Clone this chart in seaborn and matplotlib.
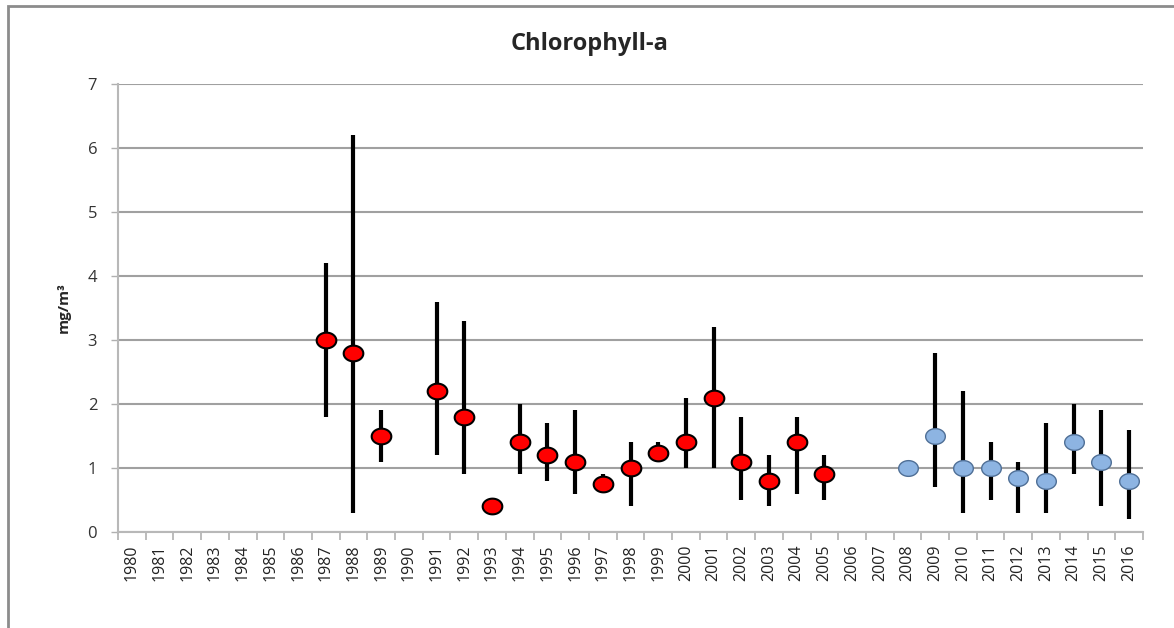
import numpy as np
import pandas as pd
import matplotlib
matplotlib.use("Agg")
import matplotlib.pyplot as plt
import seaborn as sns
from matplotlib.path import Path
from matplotlib.patches import Rectangle

# Chlorophyll-a annual values (mg/m3), NaN = no data
years = [str(y) for y in range(1980, 2017)]
mean_vals = [np.nan] * 7 + [3.0, 2.8, 1.5, np.nan, 2.2, 1.8, 0.4, 1.4, 1.2, 1.1, 0.75,
                            1.0, 1.23, 1.4, 2.1, 1.1, 0.8, 1.4, 0.9, np.nan, np.nan,
                            1.0, 1.5, 1.0, 1.0, 0.85, 0.8, 1.4, 1.1, 0.8]
low_vals = [np.nan] * 7 + [1.8, 0.3, 1.1, np.nan, 1.2, 0.9, np.nan, 0.9, 0.8, 0.6, 0.75,
                           0.4, 1.2, 1.0, 1.0, 0.5, 0.4, 0.6, 0.5, np.nan, np.nan,
                           np.nan, 0.7, 0.3, 0.5, 0.3, 0.3, 0.9, 0.4, 0.2]
high_vals = [np.nan] * 7 + [4.2, 6.2, 1.9, np.nan, 3.6, 3.3, np.nan, 2.0, 1.7, 1.9, 0.9,
                            1.4, 1.4, 2.1, 3.2, 1.8, 1.2, 1.8, 1.2, np.nan, np.nan,
                            np.nan, 2.8, 2.2, 1.4, 1.1, 1.7, 2.0, 1.9, 1.6]
period = ["old" if int(y) < 2007 else "new" for y in years]

df = pd.DataFrame({"year": years, "mean": mean_vals, "low": low_vals,
                   "high": high_vals, "period": period})
df["pos"] = np.arange(len(df))

sns.set_style("white")
plt.rcParams["font.family"] = ["Open Sans", "DejaVu Sans"]

fig = plt.figure(figsize=(11.74, 6.28), dpi=100)
ax = fig.add_axes([118 / 1174, 1 - 532 / 628, (1143 - 118) / 1174, (532 - 84) / 628])

# outer chart border (left and top visible)
fig.patches.append(Rectangle((8 / 1174, -0.2), 1.2, 1.2 - 6 / 628, transform=fig.transFigure,
                             fill=False, edgecolor="#8c8c8c", linewidth=2, zorder=0))

# min-max range lines
ax.vlines(df["pos"], df["low"], df["high"], color="black", linewidth=3, zorder=2)

# slightly flattened circle marker like the Excel chart
t = np.linspace(0, 2 * np.pi, 61)
ell = Path(np.column_stack([np.cos(t), 0.8 * np.sin(t)]), closed=True)

old = df[df["period"] == "old"]
new = df[df["period"] == "new"]
sns.scatterplot(data=old, x="pos", y="mean", ax=ax, marker=ell, s=200,
                color="#ff0000", edgecolor="black", linewidth=1.5, zorder=3, legend=False)
sns.scatterplot(data=new, x="pos", y="mean", ax=ax, marker=ell, s=200,
                color="#8db4e2", edgecolor="#4f6f96", linewidth=1, zorder=3, legend=False)

ax.set_xlim(-0.5, len(years) - 0.5)
ax.set_ylim(0, 7)
ax.set_yticks(range(0, 8))
ax.set_xticks(df["pos"])
ax.set_xticklabels(years, rotation=90, fontsize=11.5, color="#222222")
ax.tick_params(axis="x", which="major", length=0, pad=9)
ax.tick_params(axis="y", left=True, labelsize=12, colors="#333333", length=5, width=1,
               direction="out", color="#b0b0b0", pad=10)
ax.set_xticks(np.arange(-0.5, len(years), 1), minor=True)
ax.tick_params(axis="x", which="minor", bottom=True, length=6, width=1.2, color="#b0b0b0",
               direction="out")

ax.yaxis.grid(True, color="#a0a0a0", linewidth=1.5)
ax.set_axisbelow(True)
for side in ["top", "right"]:
    ax.spines[side].set_visible(False)
for side in ["left", "bottom"]:
    ax.spines[side].set_color("#b8b8b8")
    ax.spines[side].set_linewidth(1.5)

ax.set_xlabel("")
ax.set_ylabel("mg/m³", fontsize=11, fontweight="bold", labelpad=12)
fig.text(590 / 1174, 1 - 44 / 628, "Chlorophyll-a", ha="center", va="center",
         fontsize=17, fontweight="bold")

fig.savefig("out.png", dpi=100)
